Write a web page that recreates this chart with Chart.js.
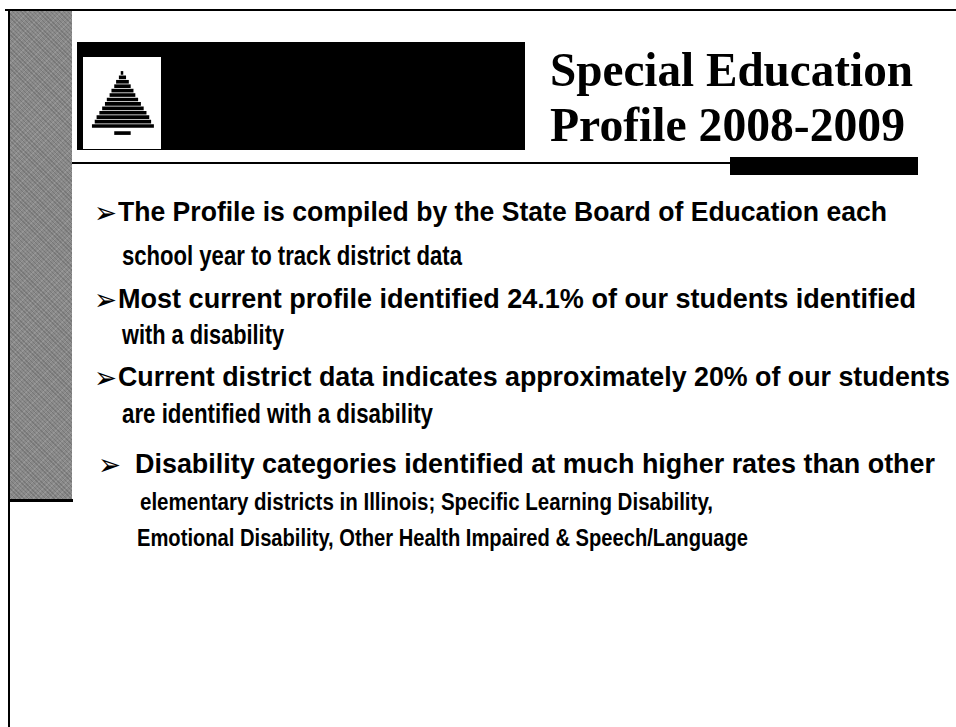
<!DOCTYPE html>
<html>
<head>
<meta charset="utf-8">
<script src="https://cdn.jsdelivr.net/npm/chart.js@4.4.1/dist/chart.umd.min.js"></script>
<style>
  html, body { margin: 0; padding: 0; background: #fff; }
  #slide { position: relative; width: 956px; height: 727px; overflow: hidden; background: #fff; }
  .blk { position: absolute; background: #000; }
  #gray { position: absolute; left: 8px; top: 11px; width: 64px; height: 489px;
          background: #8a8a8a;
          background-image: repeating-linear-gradient(45deg, rgba(0,0,0,0.14) 0 1px, transparent 1px 3px),
                            repeating-linear-gradient(-45deg, rgba(255,255,255,0.12) 0 1px, transparent 1px 4px); }
  #white { position: absolute; left: 83px; top: 57px; width: 78px; height: 92px; background: #fff; }
  .t { position: absolute; white-space: nowrap; line-height: 1; color: #000; transform-origin: 0 0; }
  .title { font-family: "Liberation Serif", "Times New Roman", serif; font-weight: bold; }
  .bul { font-family: "Liberation Sans", Arial, sans-serif; font-weight: bold; }
  .arr { font-family: "DejaVu Sans", sans-serif; font-weight: normal; }
</style>
</head>
<body>
<div id="slide">
  <div class="blk" style="left:5px;top:9px;width:951px;height:2px"></div>
  <div id="gray"></div>
  <div class="blk" style="left:8px;top:11px;width:2px;height:716px"></div>
  <div class="blk" style="left:8px;top:499px;width:65px;height:3px"></div>
  <div class="blk" style="left:77px;top:42px;width:448px;height:108px"></div>
  <div id="white"><canvas id="tree" width="78" height="92"></canvas></div>
  <div class="blk" style="left:72px;top:162px;width:660px;height:2px"></div>
  <div class="blk" style="left:730px;top:157px;width:188px;height:18px"></div>
</div>
<script>
// Slide text
const titleLines = ['Special Education', 'Profile 2008-2009'];
const bulletLines = [
  ['The Profile is compiled by the State Board of Education each', 'school year to track district data'],
  ['Most current profile identified 24.1% of our students identified', 'with a disability'],
  ['Current district data indicates approximately 20% of our students', 'are identified with a disability'],
  ['Disability categories identified at much higher rates than other',
   'elementary districts in Illinois; Specific Learning Disability,',
   'Emotional Disability, Other Health Impaired & Speech/Language']
];

// Tree logo, one floating bar per branch (row, left edge, right edge)
const treeRows  = [1, 2, 3, 4, 5, 6, 7, 8, 9, 10, 11, 12, 13, 14.6];
const treeLeft  = [-1, -3, -6, -8, -11, -13, -16, -18, -21, -24, -27, -29, -32, -8];
const treeRight = [1, 4, 7, 9, 12, 14, 17, 20, 23, 26, 29, 31, 34, 9];

// --- text placement helper: fits each line to the width seen on the slide ---
const slide = document.getElementById('slide');
function addText(text, x, baseline, width, fs, cls, asc) {
  const d = document.createElement('div');
  d.className = 't ' + cls;
  d.textContent = text;
  d.style.fontSize = fs + 'px';
  d.style.left = x + 'px';
  d.style.top = (baseline - asc * fs) + 'px';
  slide.appendChild(d);
  if (width) {
    const nat = d.getBoundingClientRect().width;
    d.style.transform = 'scaleX(' + (width / nat) + ')';
  }
  return d;
}

addText(titleLines[0], 550, 86, 363, 49, 'title', 0.8375);
addText(titleLines[1], 550, 141, 355, 49, 'title', 0.8375);

const lineBase = [[222, 266], [309, 345], [387, 424], [474, 510, 546]];
const lineX    = [[118, 122], [118, 122], [118, 122], [135, 140, 137]];
const lineW    = [[769, 340], [798, 162], [832, 311], [800, 573, 611]];
const lineFs   = [[28, 28], [28, 28], [28, 28], [28, 23, 23]];
const arrowX   = [94, 94, 94, 98];

bulletLines.forEach(function (lines, i) {
  addText('\u27A2', arrowX[i], lineBase[i][0] + 1, 23, 30, 'arr', 0.85);
  lines.forEach(function (txt, j) {
    addText(txt, lineX[i][j], lineBase[i][j], lineW[i][j], lineFs[i][j], 'bul', 0.8465);
  });
});

// --- tree logo drawn as a horizontal floating bar chart ---
new Chart(document.getElementById('tree'), {
  type: 'bar',
  data: {
    datasets: [{
      data: treeRows.map(function (r, i) { return { y: r, x: [treeLeft[i], treeRight[i]] }; }),
      backgroundColor: '#000',
      borderWidth: 0,
      barThickness: 3
    }]
  },
  options: {
    indexAxis: 'y',
    responsive: false,
    animation: false,
    events: [],
    layout: { padding: 0 },
    plugins: { legend: { display: false }, tooltip: { enabled: false } },
    scales: {
      x: { type: 'linear', min: -42, max: 42, display: false },
      y: { type: 'linear', min: 0, max: 15.6, reverse: true, display: false }
    }
  }
});
</script>
</body>
</html>
